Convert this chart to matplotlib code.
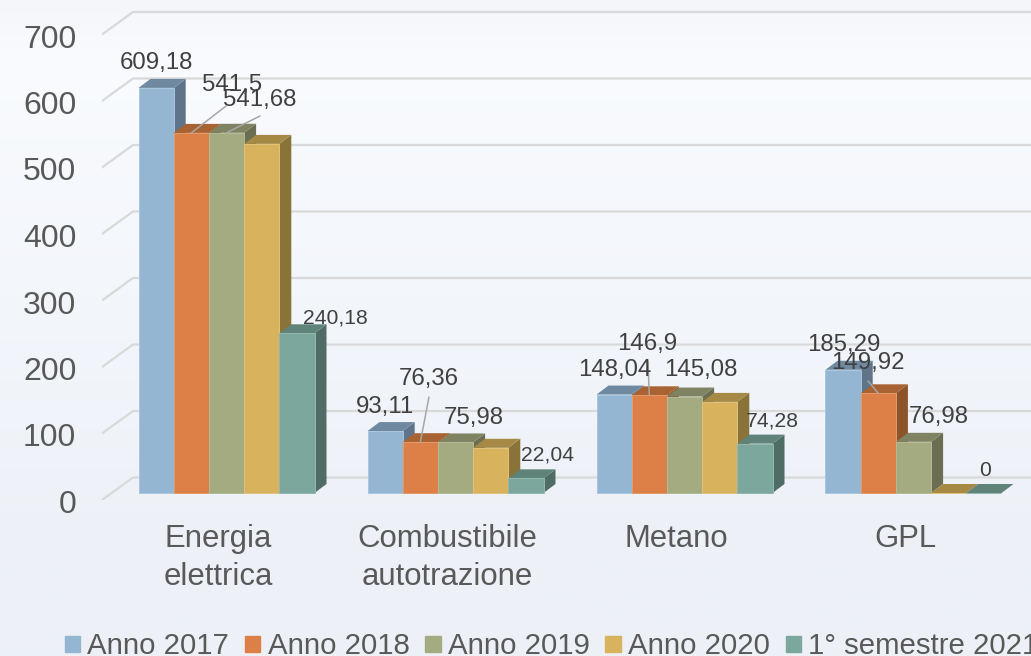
import numpy as np
import matplotlib
matplotlib.use("Agg")
import matplotlib.pyplot as plt
from matplotlib.colors import LinearSegmentedColormap
from matplotlib.transforms import ScaledTranslation

plt.rcParams['font.family'] = ['Liberation Sans', 'DejaVu Sans']

# data
categories = ["Energia\nelettrica", "Combustibile\nautotrazione", "Metano", "GPL"]
series_names = ["Anno 2017", "Anno 2018", "Anno 2019", "Anno 2020", "1° semestre 2021"]
anno_2017 = [609.18, 93.11, 148.04, 185.29]
anno_2018 = [541.5, 76.36, 146.9, 149.92]
anno_2019 = [541.68, 75.98, 145.08, 76.98]
anno_2020 = [525, 68, 137, 0]
semestre_2021 = [240.18, 22.04, 74.28, 0]
y_ticks = [0, 100, 200, 300, 400, 500, 600, 700]

# colors: front, top, side
FRONT = ["#94b6d2", "#dd8047", "#a5ab81", "#d8b25c", "#7ba79d"]
TOP = ["#6f89a1", "#a96232", "#7f8362", "#a68945", "#5f8279"]
SIDE = ["#5f7488", "#8d5329", "#6b6e52", "#8a7338", "#4f6c65"]
EDGE = ["#a9c6df", "#e59a68", "#b5ba96", "#e0c27c", "#93b8af"]

# layout in pixels of the 1031x656 picture
W, H = 1031, 656
DPI = 100
PX_Y = 0.665        # pixels for one unit of value
PX_X = 229.0        # pixels between two groups
Y0 = 493            # pixel row of value 0 on the bars
X0 = 218            # pixel column of the first category label
AX_LEFT = 102
AX_BOTTOM = 500
BAR_W = 35.2 / PX_X
BAR_SHIFT = 8.5 / PX_X
DEPTH_X = 12 / PX_X
DEPTH_Y = 9 / PX_Y
WALL_X = 31 / PX_X
WALL_Y = 33.8

# label centers in pixels, per series and category (None = no label)
label_pos = [
    [(156.5, 63), (385, 407), (615, 370), (844, 345)],
    [(232, 85), (429, 379), (647, 344), (868, 363)],
    [(260, 100), (474, 418), (701, 370), (939, 417)],
    [None, None, None, None],
    [(335, 318), (548, 455), (772, 421), (985, 470)],
]
label_size = [
    [17.3, 17.3, 17.3, 17.3],
    [17.3, 17.3, 17.3, 17.3],
    [17.3, 17.3, 17.3, 17.3],
    [0, 0, 0, 0],
    [15.2, 15.2, 15.2, 15.2],
]
# leader lines: series, category, free end in pixels
leaders = [(1, 0, (226, 106)), (2, 0, (260, 116)), (1, 1, (429, 397)),
           (1, 2, (648, 361)), (1, 3, (868, 381))]

series = [anno_2017, anno_2018, anno_2019, anno_2020, semestre_2021]

fig = plt.figure(figsize=(W / DPI, H / DPI), dpi=DPI)

# background gradient
bg = fig.add_axes([0, 0, 1, 1], zorder=0)
bg_cmap = LinearSegmentedColormap.from_list(
    'bg', [(0, "#f4f6fa"), (0.09, "#f9fbfe"), (0.45, "#f3f6fb"), (0.85, "#edf1f7"), (1, "#edf2f7")])
bg.imshow(np.linspace(0, 1, 256).reshape(-1, 1), aspect='auto', cmap=bg_cmap)
bg.axis('off')

ax = fig.add_axes([AX_LEFT / W, (H - AX_BOTTOM) / H, (W - AX_LEFT) / W, AX_BOTTOM / H], zorder=1)
ax.patch.set_alpha(0)
ax.set_xlim((AX_LEFT - X0) / PX_X, (W - X0) / PX_X)
ax.set_ylim((Y0 - AX_BOTTOM) / PX_Y, Y0 / PX_Y)

# gridlines on the back wall with the slanted piece on the left
x_front, x_end = ax.get_xlim()
for t in y_ticks:
    ax.plot([x_front, x_front + WALL_X, x_end], [t - 10.5, t - 10.5 + WALL_Y, t - 10.5 + WALL_Y],
            color="#d9d9d9", lw=1.6, zorder=1, solid_capstyle='round')

# bars, painted left to right so that later bars cover earlier side faces
z = 2
for c in range(len(categories)):
    for s, values in enumerate(series):
        left = c + BAR_SHIFT - 2.5 * BAR_W + s * BAR_W
        v = values[c]
        right = left + BAR_W
        ax.fill([right, right + DEPTH_X, right + DEPTH_X, right],
                [0, DEPTH_Y, v + DEPTH_Y, v], color=SIDE[s], lw=0, zorder=z)
        ax.fill([left, right, right + DEPTH_X, left + DEPTH_X],
                [v, v, v + DEPTH_Y, v + DEPTH_Y], color=TOP[s], lw=0, zorder=z)
        ax.bar(left, v, width=BAR_W, align='edge', color=FRONT[s], edgecolor=EDGE[s], linewidth=0.7, zorder=z)
        z += 1

# data labels
for s, values in enumerate(series):
    for c, v in enumerate(values):
        if label_pos[s][c] is None:
            continue
        px, py = label_pos[s][c]
        ax.annotate(str(v).replace('.', ','), xy=(c, v), xytext=(px, H - py), textcoords='figure pixels',
                    ha='center', va='center', fontsize=label_size[s][c], color="#404040", zorder=100)

for s, c, (px, py) in leaders:
    bar_x = c + BAR_SHIFT - 2.5 * BAR_W + (s + 0.5) * BAR_W
    ax.annotate('', xy=(bar_x, series[s][c]), xytext=(px, H - py), textcoords='figure pixels', zorder=99,
                arrowprops=dict(arrowstyle='-', color="#a6a6a6", lw=1.1, shrinkA=0, shrinkB=0))

# axes
ax.set_xticks(range(len(categories)))
ax.set_xticklabels(categories, fontsize=22.4, color="#595959", linespacing=1.33)
ax.set_yticks(y_ticks)
ax.set_yticklabels([str(t) for t in y_ticks], fontsize=23, color="#595959")
ax.tick_params(axis='both', length=0)
ax.tick_params(axis='x', pad=17.5)
ax.tick_params(axis='y', pad=18.5)
for lab in ax.get_yticklabels():
    lab.set_transform(lab.get_transform() + ScaledTranslation(0, -8.5 / DPI, fig.dpi_scale_trans))
for sp in ax.spines.values():
    sp.set_visible(False)

# legend
handles = [plt.Rectangle((0, 0), 1, 1, color=col) for col in FRONT]
leg = fig.legend(handles, series_names, loc='lower left', bbox_to_anchor=(65 / W, -4 / H), ncols=5, frameon=False,
                 fontsize=21.2, labelcolor="#595959", handlelength=0.52, handleheight=0.46, handletextpad=0.24,
                 columnspacing=0.54, borderpad=0, borderaxespad=0)

fig.savefig("out.png", dpi=DPI)
